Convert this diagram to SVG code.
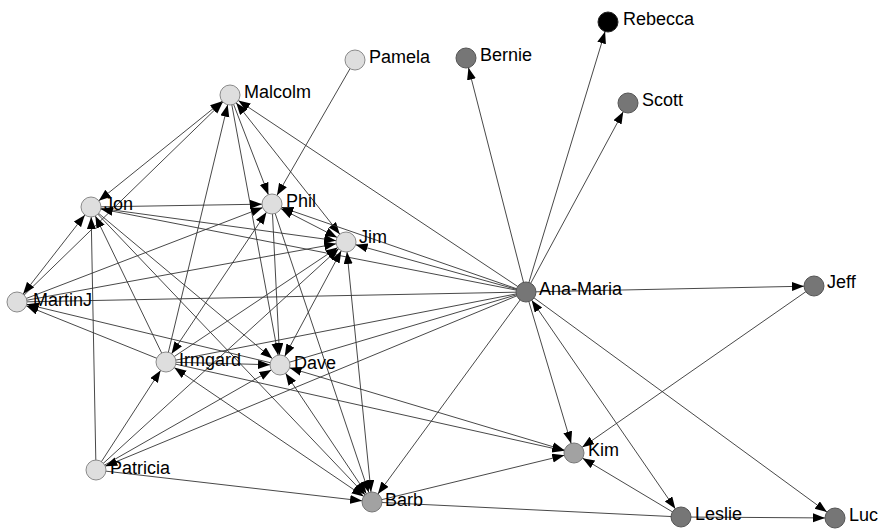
<svg xmlns="http://www.w3.org/2000/svg" width="879" height="529" viewBox="0 0 879 529">
<style>
.e{stroke:#333;stroke-width:0.9;fill:none;marker-end:url(#arr)}
.b{stroke:#333;stroke-width:0.9;fill:none;marker-end:url(#arr);marker-start:url(#arr)}
.n{stroke:#333;stroke-width:0.9;fill:none}
.lt{fill:#dedede;stroke:#8a8a8a;stroke-width:1}
.dk{fill:#767676;stroke:#555;stroke-width:1}
.md{fill:#a2a2a2;stroke:#777;stroke-width:1}
.bk{fill:#000;stroke:#222;stroke-width:1}
text{font-family:"Liberation Sans",Arial,sans-serif;font-size:18px;fill:#000}
</style>
<defs>
<marker id="arr" markerUnits="userSpaceOnUse" markerWidth="13" markerHeight="10" refX="22" refY="4.5" orient="auto-start-reverse">
<path d="M0,0 L12,4.5 L0,9 z" fill="#000"/>
</marker>
</defs>
<rect width="879" height="529" fill="#fff"/>
<g id="edges">
<line class="e" x1="355" y1="60" x2="272" y2="204"/>
<line class="e" x1="526" y1="292" x2="466" y2="58"/>
<line class="e" x1="526" y1="292" x2="608" y2="22"/>
<line class="e" x1="526" y1="292" x2="628" y2="103"/>
<line class="e" x1="526" y1="292" x2="814" y2="286"/>
<line class="e" x1="526" y1="292" x2="574" y2="453"/>
<line class="b" x1="526" y1="292" x2="681" y2="517"/>
<line class="e" x1="526" y1="292" x2="835" y2="518"/>
<line class="e" x1="526" y1="292" x2="346" y2="242"/>
<line class="e" x1="526" y1="292" x2="372" y2="502"/>
<line class="e" x1="681" y1="517" x2="835" y2="518"/>
<line class="e" x1="681" y1="517" x2="574" y2="453"/>
<line class="e" x1="814" y1="286" x2="574" y2="453"/>
<line class="e" x1="372" y1="502" x2="574" y2="453"/>
<line class="e" x1="166" y1="362" x2="574" y2="453"/>
<line class="b" x1="280" y1="365" x2="574" y2="453"/>
<line class="n" x1="681" y1="517" x2="372" y2="502"/>
<line class="e" x1="96" y1="470" x2="372" y2="502"/>
<line class="b" x1="230" y1="95" x2="91" y2="207"/>
<line class="e" x1="17" y1="302" x2="230" y2="95"/>
<line class="e" x1="166" y1="362" x2="230" y2="95"/>
<line class="e" x1="230" y1="95" x2="272" y2="204"/>
<line class="e" x1="230" y1="95" x2="280" y2="365"/>
<line class="b" x1="230" y1="95" x2="346" y2="242"/>
<line class="e" x1="526" y1="292" x2="230" y2="95"/>
<line class="e" x1="91" y1="207" x2="272" y2="204"/>
<line class="e" x1="91" y1="207" x2="346" y2="242"/>
<line class="e" x1="526" y1="292" x2="91" y2="207"/>
<line class="b" x1="17" y1="302" x2="91" y2="207"/>
<line class="e" x1="96" y1="470" x2="91" y2="207"/>
<line class="e" x1="166" y1="362" x2="91" y2="207"/>
<line class="e" x1="91" y1="207" x2="280" y2="365"/>
<line class="e" x1="91" y1="207" x2="372" y2="502"/>
<line class="b" x1="346" y1="242" x2="272" y2="204"/>
<line class="b" x1="166" y1="362" x2="272" y2="204"/>
<line class="e" x1="272" y1="204" x2="280" y2="365"/>
<line class="e" x1="272" y1="204" x2="372" y2="502"/>
<line class="e" x1="17" y1="302" x2="272" y2="204"/>
<line class="e" x1="17" y1="302" x2="346" y2="242"/>
<line class="e" x1="166" y1="362" x2="346" y2="242"/>
<line class="b" x1="280" y1="365" x2="346" y2="242"/>
<line class="e" x1="96" y1="470" x2="346" y2="242"/>
<line class="b" x1="372" y1="502" x2="346" y2="242"/>
<line class="e" x1="166" y1="362" x2="280" y2="365"/>
<line class="e" x1="96" y1="470" x2="280" y2="365"/>
<line class="b" x1="372" y1="502" x2="280" y2="365"/>
<line class="n" x1="526" y1="292" x2="280" y2="365"/>
<line class="n" x1="526" y1="292" x2="17" y2="302"/>
<line class="e" x1="166" y1="362" x2="17" y2="302"/>
<line class="e" x1="280" y1="365" x2="17" y2="302"/>
<line class="e" x1="96" y1="470" x2="166" y2="362"/>
<line class="b" x1="372" y1="502" x2="166" y2="362"/>
<line class="n" x1="526" y1="292" x2="166" y2="362"/>
<line class="e" x1="526" y1="292" x2="96" y2="470"/>
<line class="e" x1="526" y1="292" x2="272" y2="204"/>
</g>
<g id="n-pamela"><circle class="lt" cx="355" cy="60" r="10"/><text x="369" y="63">Pamela</text></g>
<g id="n-bernie"><circle class="dk" cx="466" cy="58" r="10"/><text x="480" y="61">Bernie</text></g>
<g id="n-rebecca"><circle class="bk" cx="608" cy="22" r="10"/><text x="623" y="25">Rebecca</text></g>
<g id="n-scott"><circle class="dk" cx="628" cy="103" r="10"/><text x="642" y="106">Scott</text></g>
<g id="n-malcolm"><circle class="lt" cx="230" cy="95" r="10"/><text x="244" y="98">Malcolm</text></g>
<g id="n-jon"><circle class="lt" cx="91" cy="207" r="10"/><text x="104" y="210">Jon</text></g>
<g id="n-phil"><circle class="lt" cx="272" cy="204" r="10"/><text x="286" y="207">Phil</text></g>
<g id="n-jim"><circle class="lt" cx="346" cy="242" r="10"/><text x="359" y="243">Jim</text></g>
<g id="n-martinj"><circle class="lt" cx="17" cy="302" r="10"/><text x="33" y="306">MartinJ</text></g>
<g id="n-irmgard"><circle class="lt" cx="166" cy="362" r="10"/><text x="179" y="366">Irmgard</text></g>
<g id="n-dave"><circle class="lt" cx="280" cy="365" r="10"/><text x="294" y="369">Dave</text></g>
<g id="n-anamaria"><circle class="dk" cx="526" cy="292" r="10"/><text x="539" y="295">Ana-Maria</text></g>
<g id="n-jeff"><circle class="dk" cx="814" cy="286" r="10"/><text x="827" y="288">Jeff</text></g>
<g id="n-kim"><circle class="md" cx="574" cy="453" r="10"/><text x="588" y="456">Kim</text></g>
<g id="n-leslie"><circle class="dk" cx="681" cy="517" r="10"/><text x="695" y="520">Leslie</text></g>
<g id="n-luc"><circle class="dk" cx="835" cy="518" r="10"/><text x="849" y="521">Luc</text></g>
<g id="n-patricia"><circle class="lt" cx="96" cy="470" r="10"/><text x="110" y="474">Patricia</text></g>
<g id="n-barb"><circle class="md" cx="372" cy="502" r="10"/><text x="385" y="506">Barb</text></g>
</svg>
